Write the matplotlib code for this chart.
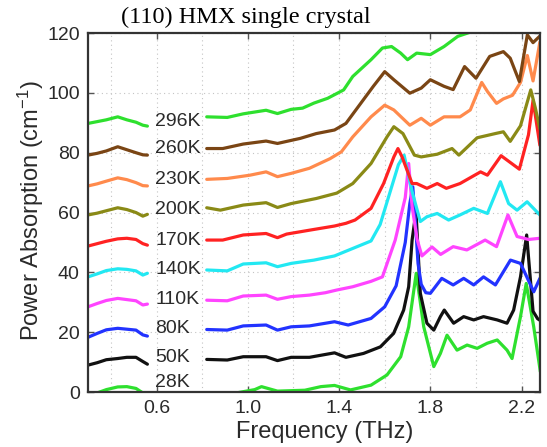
import matplotlib
matplotlib.use("Agg")
import matplotlib.pyplot as plt
from matplotlib.ticker import FixedLocator, MultipleLocator

plt.rcParams['font.family'] = ['Liberation Sans', 'DejaVu Sans']
plt.rcParams['mathtext.default'] = 'regular'

# temperatures (top to bottom) and trace colours
temps = ["296K", "260K", "230K", "200K", "170K", "140K", "110K", "80K", "50K", "28K"]
colors = ["#2ee02e", "#7a4514", "#ff8a4c", "#8a8a16", "#ff2222",
          "#22e8f2", "#ff44ff", "#2233ff", "#111111", "#2ee02e"]
label_y = [90.3, 81.3, 70.9, 60.9, 50.8, 40.8, 30.8, 21.2, 11.7, 3.3]

# low-frequency part (left of the labels), shared frequency grid
low_freq = [0.30, 0.34, 0.38, 0.43, 0.47, 0.51, 0.54, 0.56]
low_296 = [89.8, 90.4, 91.0, 92.0, 91.0, 90.2, 89.2, 88.9]
low_260 = [79.2, 79.8, 80.6, 82.0, 81.0, 80.0, 79.3, 79.2]
low_230 = [68.9, 69.6, 70.5, 71.6, 71.0, 70.0, 69.0, 68.9]
low_200 = [59.2, 59.8, 60.6, 61.6, 61.0, 60.0, 58.8, 59.4]
low_170 = [48.8, 49.6, 50.4, 51.2, 51.4, 51.0, 49.6, 49.1]
low_140 = [38.5, 39.5, 40.6, 41.2, 41.0, 40.5, 39.1, 39.7]
low_110 = [28.5, 29.6, 30.6, 31.3, 30.9, 30.5, 29.1, 29.4]
low_80 = [18.3, 19.6, 20.8, 21.3, 21.0, 20.7, 19.1, 18.7]
low_50 = [9.0, 9.8, 10.8, 11.2, 11.6, 11.6, 10.2, 9.3]
low_28 = [-0.5, -0.3, 0.8, 1.7, 1.8, 1.2, -0.3, -0.5]

# main part (right of the labels)
f_296 = [0.82, 0.91, 0.98, 1.08, 1.13, 1.19, 1.24, 1.29, 1.35, 1.39, 1.42, 1.46,
         1.54, 1.59, 1.63, 1.67, 1.70, 1.74, 1.80, 1.86, 1.92, 1.975, 2.05, 2.15, 2.28]
a_296 = [92.0, 91.8, 93.0, 94.2, 93.1, 94.5, 94.9, 96.6, 98.2, 99.8, 101.0, 105.5,
         111.1, 115.0, 115.5, 113.3, 111.1, 113.3, 112.8, 115.5, 118.9, 120.3, 123.0, 125.0, 127.0]

f_260 = [0.82, 0.89, 0.98, 1.08, 1.13, 1.23, 1.30, 1.38, 1.43, 1.49, 1.55, 1.60, 1.64,
         1.71, 1.76, 1.80, 1.86, 1.90, 1.95, 2.00, 2.06, 2.12, 2.15, 2.19, 2.225, 2.25, 2.28]
a_260 = [81.4, 81.4, 82.9, 83.9, 83.1, 84.8, 86.4, 87.6, 89.8, 96.0, 102.2, 107.1, 104.4,
         99.9, 101.6, 104.4, 102.2, 101.1, 108.8, 104.9, 112.2, 113.8, 111.6, 103.8, 119.4, 116.8, 119.0]

f_230 = [0.82, 0.91, 1.01, 1.08, 1.13, 1.19, 1.27, 1.36, 1.41, 1.46, 1.54, 1.60, 1.64,
         1.71, 1.76, 1.80, 1.86, 1.93, 1.975, 2.025, 2.05, 2.09, 2.12, 2.16, 2.195, 2.225, 2.25, 2.28]
a_230 = [71.1, 71.4, 72.5, 73.6, 72.0, 73.1, 74.8, 78.0, 80.3, 85.3, 92.0, 95.9, 94.3,
         89.2, 91.5, 89.2, 92.0, 92.0, 94.3, 103.5, 100.5, 96.5, 98.0, 99.2, 103.5, 112.5, 104.0, 117.0]

f_200 = [0.82, 0.88, 0.98, 1.08, 1.13, 1.19, 1.30, 1.39, 1.46, 1.54, 1.61, 1.64, 1.68,
         1.73, 1.76, 1.83, 1.895, 1.925, 2.005, 2.09, 2.12, 2.15, 2.195, 2.24, 2.26, 2.28]
a_200 = [61.6, 60.8, 62.5, 63.3, 61.7, 63.0, 64.7, 66.5, 69.7, 76.4, 85.3, 88.7, 86.4,
         79.2, 78.6, 79.5, 81.4, 79.2, 85.0, 86.5, 87.0, 83.8, 89.0, 101.0, 95.0, 88.0]

f_170 = [0.82, 0.89, 0.98, 1.08, 1.13, 1.17, 1.27, 1.38, 1.43, 1.47, 1.54, 1.595, 1.64,
         1.658, 1.676, 1.72, 1.74, 1.785, 1.83, 1.87, 1.93, 2.02, 2.05, 2.11, 2.19, 2.23, 2.25, 2.28]
a_170 = [50.8, 50.8, 52.5, 53.0, 51.6, 52.8, 54.1, 55.5, 56.4, 57.5, 61.4, 69.7, 78.6,
         81.4, 78.6, 69.7, 69.7, 68.1, 69.7, 68.1, 69.7, 73.6, 72.5, 79.0, 74.5, 86.0, 97.5, 82.5]

f_140 = [0.82, 0.91, 0.98, 1.08, 1.13, 1.19, 1.29, 1.38, 1.46, 1.54, 1.58, 1.62, 1.66,
         1.685, 1.70, 1.72, 1.756, 1.785, 1.83, 1.88, 1.93, 1.99, 2.05, 2.107, 2.143, 2.18, 2.224, 2.28]
a_140 = [40.8, 40.5, 42.8, 43.2, 41.9, 43.0, 44.1, 45.5, 48.0, 50.5, 56.0, 66.0, 76.0,
         79.2, 74.0, 67.0, 57.0, 58.6, 59.7, 57.5, 59.2, 61.4, 59.7, 70.3, 63.0, 60.8, 63.6, 59.2]

f_110 = [0.82, 0.91, 0.98, 1.08, 1.13, 1.19, 1.27, 1.34, 1.39, 1.46, 1.54, 1.59, 1.646,
         1.69, 1.705, 1.72, 1.742, 1.763, 1.807, 1.845, 1.90, 1.96, 2.04, 2.09, 2.14, 2.18, 2.23, 2.28]
a_110 = [30.7, 30.5, 32.1, 32.4, 31.0, 31.9, 32.4, 33.2, 34.1, 35.2, 37.0, 38.5, 50.8,
         65.0, 76.4, 62.0, 51.0, 45.5, 48.5, 46.0, 48.6, 47.5, 50.8, 48.6, 59.2, 52.0, 51.0, 51.4]

f_80 = [0.82, 0.91, 0.98, 1.08, 1.13, 1.19, 1.27, 1.38, 1.44, 1.54, 1.60, 1.65, 1.69,
        1.71, 1.723, 1.735, 1.746, 1.76, 1.78, 1.80, 1.85, 1.90, 1.946, 1.99, 2.033, 2.085,
        2.151, 2.195, 2.253, 2.28]
a_80 = [20.9, 20.7, 22.1, 22.4, 20.7, 21.8, 22.1, 23.5, 22.4, 24.6, 28.5, 35.5, 50.0,
        63.0, 68.6, 56.0, 43.0, 36.0, 33.2, 33.0, 38.0, 35.8, 38.0, 35.8, 38.5, 35.8,
        44.1, 43.0, 33.5, 38.0]

f_50 = [0.82, 0.91, 0.98, 1.08, 1.13, 1.19, 1.27, 1.38, 1.43, 1.507, 1.581, 1.639, 1.683,
        1.705, 1.72, 1.737, 1.749, 1.756, 1.785, 1.815, 1.844, 1.861, 1.902, 1.946, 1.99,
        2.033, 2.093, 2.136, 2.165, 2.195, 2.222, 2.25, 2.27, 2.28]
a_50 = [10.9, 10.7, 11.8, 11.8, 10.5, 11.6, 11.6, 13.1, 11.6, 12.9, 15.1, 19.6, 27.4,
        35.2, 50.8, 60.3, 43.0, 33.0, 23.0, 20.7, 25.2, 27.4, 23.0, 25.2, 24.1,
        25.2, 24.1, 23.0, 27.4, 38.5, 52.5, 27.0, 24.5, 24.0]

f_28 = [0.82, 0.95, 1.03, 1.06, 1.13, 1.25, 1.32, 1.38, 1.45, 1.54, 1.61, 1.67, 1.705,
        1.738, 1.771, 1.815, 1.844, 1.873, 1.917, 1.961, 2.005, 2.049, 2.093, 2.136, 2.158,
        2.195, 2.22, 2.253, 2.282]
a_28 = [-0.5, -0.3, 0.8, 1.8, 0.3, 0.6, 1.8, 2.2, 0.7, 2.3, 5.7, 11.8, 21.8,
        39.7, 21.8, 8.5, 12.9, 19.0, 14.0, 15.7, 14.6, 16.3, 17.4, 14.0, 11.2,
        25.2, 36.3, 21.8, 6.8]

low_vals = [low_296, low_260, low_230, low_200, low_170, low_140, low_110, low_80, low_50, low_28]
high_freq = [f_296, f_260, f_230, f_200, f_170, f_140, f_110, f_80, f_50, f_28]
high_vals = [a_296, a_260, a_230, a_200, a_170, a_140, a_110, a_80, a_50, a_28]

fig = plt.figure(figsize=(5.47, 4.47), dpi=100)
ax = fig.add_axes([0.161, 0.123, 0.826, 0.803])

# draw from the bottom trace up so upper traces sit on top like the original
for i in reversed(range(len(temps))):
    ax.plot(low_freq, low_vals[i], color=colors[i], lw=2.3,
            solid_joinstyle='round', solid_capstyle='round')
    ax.plot(high_freq[i], high_vals[i], color=colors[i], lw=2.3,
            solid_joinstyle='round', solid_capstyle='round')
    ax.text(0.595, label_y[i], temps[i], fontsize=14, color='#2a2a2a',
            ha='left', va='center')

ax.set_xlim(0.3, 2.28)
ax.set_ylim(0, 120)
ax.xaxis.set_major_locator(FixedLocator([0.6, 1.0, 1.4, 1.8, 2.2]))
ax.xaxis.set_minor_locator(FixedLocator([0.4, 0.8, 1.2, 1.6, 2.0]))
ax.yaxis.set_major_locator(MultipleLocator(20))
ax.set_xticklabels(["0.6", "1.0", "1.4", "1.8", "2.2"])
ax.grid(which='both', ls=(0, (1, 3)), color='#c4c4c4', lw=0.8)
ax.tick_params(which='both', direction='in', top=True, right=True, length=4,
               width=1, colors='#555555', labelcolor='#2a2a2a', labelsize=14, pad=6)
ax.tick_params(which='minor', length=0)
for sp in ax.spines.values():
    sp.set_linewidth(1.6)
    sp.set_color('#333333')

fig.text(0.057, 0.528, "Power Absorption (cm$^{-1}$)", rotation=90, fontsize=17,
         color='#2a2a2a', ha='center', va='center')
fig.text(0.594, 0.034, "Frequency (THz)", fontsize=17, color='#2a2a2a',
         ha='center', va='center')
fig.text(0.449, 0.962, "(110) HMX single crystal", fontsize=17.5,
         family='Liberation Serif', ha='center', va='center')

fig.savefig("out.png", dpi=100)
